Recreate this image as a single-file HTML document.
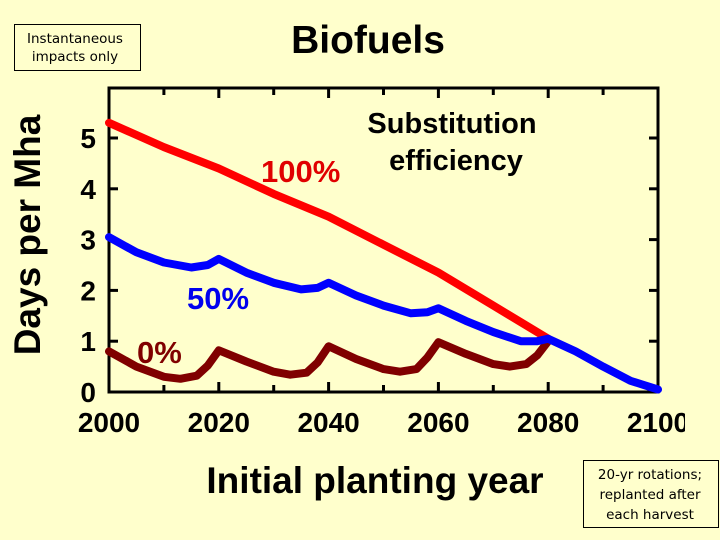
<!DOCTYPE html>
<html><head><meta charset="utf-8"><style>
body{margin:0;background:#ffffcc;}
svg{display:block;font-family:"Liberation Sans",Arial,sans-serif;}
.note{font-family:"DejaVu Sans","Liberation Sans",sans-serif;}
</style></head><body>
<svg id="chart" width="720" height="540" viewBox="0 0 720 540">
<rect width="720" height="540" fill="#ffffcc"/>
<g>
<rect x="14.5" y="24.5" width="126" height="46" fill="#ffffcc" stroke="#000" stroke-width="1"/>
<text class="note" x="75" y="43" font-size="13.5" text-anchor="middle">Instantaneous</text>
<text class="note" x="75" y="61" font-size="13.5" text-anchor="middle">impacts only</text>
</g>
<text x="368" y="53" font-size="39" font-weight="bold" text-anchor="middle">Biofuels</text>
<g id="axes"></g>
<g id="series"></g>
<text x="452" y="133" font-size="29" font-weight="bold" text-anchor="middle">Substitution</text>
<text x="456" y="170" font-size="29" font-weight="bold" text-anchor="middle">efficiency</text>
<text x="261" y="182" font-size="31" font-weight="bold" fill="#e00000">100%</text>
<text x="187" y="309" font-size="31" font-weight="bold" fill="#0000ee">50%</text>
<text x="137" y="363" font-size="31" font-weight="bold" fill="#800000">0%</text>
<text transform="translate(40,235) rotate(-90)" font-size="37" font-weight="bold" text-anchor="middle">Days per Mha</text>
<text x="375" y="493" font-size="37" font-weight="bold" text-anchor="middle">Initial planting year</text>
<rect x="685" y="400" width="35" height="45" fill="#ffffcc"/>
<g>
<rect x="583.5" y="460.5" width="135" height="67" fill="#ffffcc" stroke="#000" stroke-width="1"/>
<text class="note" x="650" y="479" font-size="13.5" text-anchor="middle">20-yr rotations;</text>
<text class="note" x="650" y="499" font-size="13.5" text-anchor="middle">replanted after</text>
<text class="note" x="650" y="519" font-size="13.5" text-anchor="middle">each harvest</text>
</g>
</svg>
<script>
const xTicks=[2000,2020,2040,2060,2080,2100];
const yTicks=[0,1,2,3,4,5];
const redYears=[2000,2010,2020,2030,2040,2050,2060,2070,2080];
const redValues=[5.3,4.82,4.4,3.9,3.45,2.9,2.35,1.7,1.05];
const blueYears=[2000,2005,2010,2015,2018,2020,2025,2030,2035,2038,2040,2045,2050,2055,2058,2060,2065,2070,2075,2078,2080,2085,2090,2095,2100];
const blueValues=[3.05,2.75,2.55,2.45,2.5,2.62,2.35,2.15,2.02,2.05,2.15,1.9,1.7,1.55,1.57,1.65,1.4,1.18,1.0,1.0,1.05,0.8,0.5,0.22,0.05];
const darkYears=[2000,2005,2010,2013,2016,2018,2020,2025,2030,2033,2036,2038,2040,2045,2050,2053,2056,2058,2060,2065,2070,2073,2076,2078,2080];
const darkValues=[0.8,0.5,0.3,0.26,0.32,0.52,0.82,0.6,0.4,0.34,0.38,0.58,0.9,0.65,0.45,0.4,0.45,0.68,0.98,0.75,0.55,0.5,0.55,0.72,1.0];
const X0=109,X1=658,Y0=392,Y1=88;
const xs=v=>X0+(v-2000)*(X1-X0)/100;
const ys=v=>Y0-v*50.8;
const NS="http://www.w3.org/2000/svg";
const axes=document.getElementById('axes'),series=document.getElementById('series');
function mk(t,a,p){const e=document.createElementNS(NS,t);for(const k in a)e.setAttribute(k,a[k]);p.appendChild(e);return e;}
const fr=mk('rect',{x:X0,y:Y1,width:X1-X0,height:Y0-Y1,fill:'none',stroke:'#000','stroke-width':3},axes);


for(let yr=2000;yr<=2100;yr+=10){
 const len=(yr%20===0)?10:7;
 const t1=mk('line',{x1:xs(yr),x2:xs(yr),y1:Y0,y2:Y0-len,stroke:'#000','stroke-width':3},axes);
 
 
 const t2=mk('line',{x1:xs(yr),x2:xs(yr),y1:Y1,y2:Y1+len,stroke:'#000','stroke-width':3},axes);
 
 
}
xTicks.forEach(v=>{
 const t=mk('text',{x:xs(v),y:432,'font-size':28,'font-weight':'bold','text-anchor':'middle'},axes);
 t.textContent=v;
 
 
});
yTicks.forEach(v=>{
 const a=mk('line',{x1:X0,x2:X0+9,y1:ys(v),y2:ys(v),stroke:'#000','stroke-width':3},axes);
 
 
 const b=mk('line',{x1:X1,x2:X1-9,y1:ys(v),y2:ys(v),stroke:'#000','stroke-width':3},axes);
 
 
 const t=mk('text',{x:96,y:ys(v)+10,'font-size':28,'font-weight':'bold','text-anchor':'end'},axes);
 t.textContent=v;
 
 
});
function line(xa,ya,color,name){
 const d=xa.map((x,i)=>(i?'L':'M')+xs(x).toFixed(1)+','+ys(ya[i]).toFixed(1)).join('');
 const p=mk('path',{d:d,fill:'none',stroke:color,'stroke-width':8,'stroke-linejoin':'round','stroke-linecap':'round'},series);
 
 
}
line(redYears,redValues,'#ff0000','series-100-percent');
line(darkYears,darkValues,'#800000','series-0-percent');
line(blueYears,blueValues,'#0000ff','series-50-percent');
</script>
</body></html>
